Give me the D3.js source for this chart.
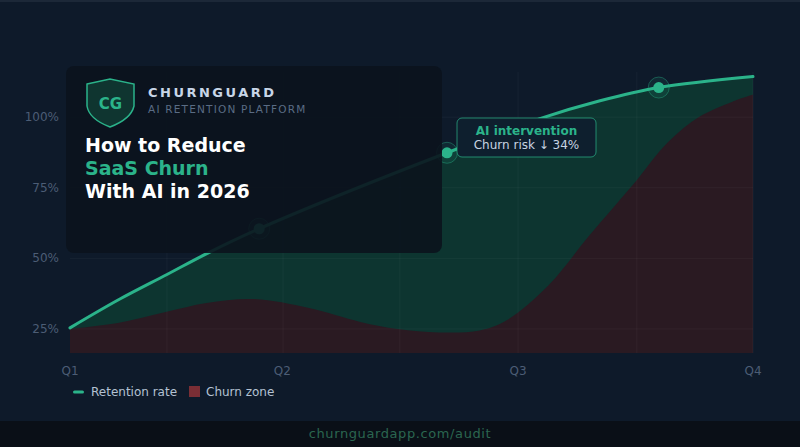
<!DOCTYPE html>
<html lang="en">
<head>
<meta charset="UTF-8">
<title>How to Reduce SaaS Churn With AI in 2026</title>
<script src="https://d3js.org/d3.v7.min.js"></script>
<style>
    body { margin: 0; background: #0e1a2a; }
    svg { display: block; font-family: "DejaVu Sans", sans-serif; }
    .axis-label { fill: #4c5d75; font-size: 12px; }
    .legend-text { fill: #b4c2d3; font-size: 12px; }
</style>
</head>
<body>
<svg width="800" height="447"></svg>
<script>
// timeline runs 0..100 from Q1 to Q4
const quarterLabels = ["Q1", "Q2", "Q3", "Q4"];
const quarterPos = [0, 31.1, 65.6, 100];
const gridX = [14.2, 31.2, 48.3, 65.6, 83.0, 100];
const gridY = [25, 50, 75, 100];

const retentionT = [0, 7.3, 14.2, 20.1, 27.7, 55.2, 68.8, 77.6, 86.2, 100];
const retentionV = [25.4, 35.6, 44.3, 51.8, 60.5, 87.4, 99.5, 105.8, 110.5, 114.4];

const churnT = [0, 7, 14, 20, 27, 35, 42.5, 48, 54, 60, 64, 70, 76, 83, 87.5, 92.2, 97, 100];
const churnV = [25, 27.1, 31, 34.2, 35.6, 32.4, 27.5, 25, 23.8, 24.5, 28.2, 40.3, 58, 77.8, 91, 100.2, 105.5, 108];

const markerT = [27.7, 55.2, 86.2];

const svg = d3.select("svg");
const W = 800, H = 447;

const x = d3.scaleLinear().domain([0, 100]).range([70, 753]);
const y = d3.scaleLinear().domain([16.5, 116]).range([353, 72]);

const retention = retentionT.map((t, i) => ({ t, v: retentionV[i] }));
const churn = churnT.map((t, i) => ({ t, v: churnV[i] }));
const curve = d3.curveCatmullRom.alpha(0.5);

svg.append("rect").attr("width", W).attr("height", H).attr("fill", "#0e1a2a");
svg.append("rect").attr("width", W).attr("height", 2).attr("fill", "#1c2838");

// areas
const area = d3.area().curve(curve)
    .x(d => x(d.t)).y0(y(16.5)).y1(d => y(d.v));

svg.append("path").datum(retention).attr("d", area).attr("fill", "#0d3530");
svg.append("path").datum(churn).attr("d", area).attr("fill", "#2a1a22");

// grid
svg.append("g").selectAll("line").data(gridX).join("line")
    .attr("x1", d => x(d)).attr("x2", d => x(d))
    .attr("y1", y(116)).attr("y2", y(16.5))
    .attr("stroke", "#ffffff").attr("stroke-opacity", 0.04);
svg.append("g").selectAll("line").data(gridY).join("line")
    .attr("x1", x(0)).attr("x2", x(100))
    .attr("y1", d => y(d)).attr("y2", d => y(d))
    .attr("stroke", "#ffffff").attr("stroke-opacity", 0.04);

// retention line
const line = d3.line().curve(curve).x(d => x(d.t)).y(d => y(d.v));
const retentionPath = svg.append("path").datum(retention).attr("d", line)
    .attr("fill", "none").attr("stroke", "#2bb38a").attr("stroke-width", 3)
    .attr("stroke-linecap", "round");

// markers sit on the drawn curve
const pathNode = retentionPath.node();
function yAt(px) {
    let lo = 0, hi = pathNode.getTotalLength();
    for (let i = 0; i < 40; i++) {
        const mid = (lo + hi) / 2;
        if (pathNode.getPointAtLength(mid).x < px) lo = mid; else hi = mid;
    }
    return pathNode.getPointAtLength(lo).y;
}
const markers = svg.append("g").selectAll("g").data(markerT).join("g")
    .attr("transform", d => `translate(${x(d)},${yAt(x(d))})`);
markers.append("circle").attr("r", 10.5).attr("fill", "#2bb38a").attr("fill-opacity", 0.1)
    .attr("stroke", "#2bb38a").attr("stroke-opacity", 0.4).attr("stroke-width", 1);
markers.append("circle").attr("r", 5.5).attr("fill", "#2bb38a");

// axis labels
svg.append("g").selectAll("text").data(gridY).join("text")
    .attr("class", "axis-label").attr("x", 59).attr("y", d => y(d) + 4)
    .attr("text-anchor", "end").text(d => d + "%");
svg.append("g").selectAll("text").data(quarterLabels).join("text")
    .attr("class", "axis-label").attr("x", (d, i) => x(quarterPos[i])).attr("y", 375)
    .attr("text-anchor", "middle").text(d => d);

// annotation
const ann = svg.append("g").attr("transform", "translate(457,118)");
ann.append("rect").attr("width", 139).attr("height", 39).attr("rx", 5)
    .attr("fill", "#0e1f2e").attr("stroke", "#2bb38a").attr("stroke-opacity", 0.7);
ann.append("text").attr("x", 69.5).attr("y", 17).attr("text-anchor", "middle")
    .attr("fill", "#2bb38a").attr("font-size", 12).attr("font-weight", "bold").text("AI intervention");
ann.append("text").attr("x", 69.5).attr("y", 31).attr("text-anchor", "middle")
    .attr("fill", "#c8d4e2").attr("font-size", 12).text("Churn risk \u2193 34%");

// title card
const card = svg.append("g");
card.append("rect").attr("x", 66).attr("y", 66).attr("width", 376).attr("height", 187).attr("rx", 8)
    .attr("fill", "#0b131d").attr("fill-opacity", 0.9);
card.append("path")
    .attr("d", "M87,84 L110,79 L134,84 L134,106 Q131,119 110,127 Q89,119 87,106 Z")
    .attr("fill", "#0f3530").attr("stroke", "#2bb38a").attr("stroke-width", 1.5);
card.append("text").attr("x", 110.5).attr("y", 109).attr("text-anchor", "middle")
    .attr("fill", "#2bb38a").attr("font-size", 15).attr("font-weight", "bold").text("CG");
card.append("text").attr("x", 148).attr("y", 97).attr("fill", "#c8d6e8")
    .attr("font-size", 13).attr("font-weight", "bold").attr("letter-spacing", 2.5).text("CHURNGUARD");
card.append("text").attr("x", 148).attr("y", 113).attr("fill", "#5a6c84")
    .attr("font-size", 10.5).attr("letter-spacing", 1.2).text("AI RETENTION PLATFORM");
const titleLines = [["How to Reduce", "#ffffff", 152], ["SaaS Churn", "#2bb38a", 175], ["With AI in 2026", "#ffffff", 198]];
card.selectAll("text.title").data(titleLines).join("text").attr("class", "title")
    .attr("x", 85).attr("y", d => d[2]).attr("fill", d => d[1])
    .attr("font-size", 19).attr("font-weight", "bold").text(d => d[0]);

// legend
svg.append("rect").attr("x", 73).attr("y", 390.5).attr("width", 11).attr("height", 3).attr("rx", 1.5).attr("fill", "#2bb38a");
svg.append("text").attr("class", "legend-text").attr("x", 91).attr("y", 396).text("Retention rate");
svg.append("rect").attr("x", 189).attr("y", 386).attr("width", 11).attr("height", 11).attr("fill", "#7a2e35");
svg.append("text").attr("class", "legend-text").attr("x", 206).attr("y", 396).text("Churn zone");

// footer
svg.append("rect").attr("y", 421).attr("width", W).attr("height", 26).attr("fill", "#0a0f17");
svg.append("text").attr("x", 400).attr("y", 438).attr("text-anchor", "middle")
    .attr("fill", "#2b6650").attr("font-size", 13).attr("letter-spacing", 0.6).text("churnguardapp.com/audit");
</script>
</body>
</html>
